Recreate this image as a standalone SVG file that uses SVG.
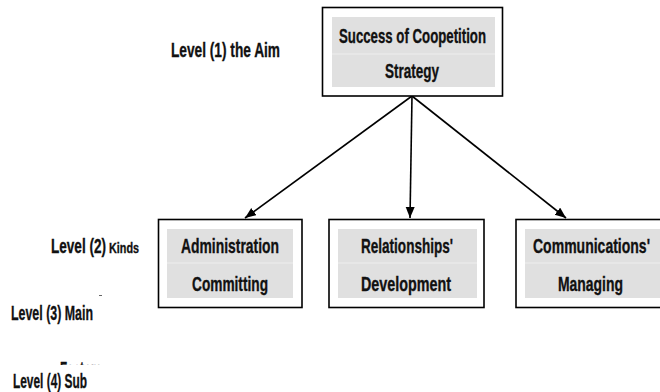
<svg xmlns="http://www.w3.org/2000/svg" width="660" height="392" viewBox="0 0 660 392">
  <style>
    .box { fill: #ffffff; stroke: #000000; stroke-width: 1.6; }
    .band { fill: #e0e0e0; }
    .seam { stroke: #eeeeee; stroke-width: 1; }
    .t { font-family: "Liberation Sans", Arial, sans-serif; font-weight: bold; font-size: 20.5px; fill: #111111; stroke: #111111; stroke-width: 0.35; }
    .c { text-anchor: middle; }
    .small { font-size: 15px; }
    .link { stroke: #000000; stroke-width: 1.6; fill: none; marker-end: url(#arrow); }
  </style>
  <defs>
    <marker id="arrow" markerUnits="userSpaceOnUse" markerWidth="12" markerHeight="10" refX="11" refY="4.5" orient="auto">
      <path d="M0,0 L11,4.5 L0,9 z" fill="#000000"/>
    </marker>
    <clipPath id="cut">
      <rect x="55" y="360" width="60" height="5"/>
    </clipPath>
  </defs>

  <rect width="660" height="392" fill="#ffffff"/>

  <!-- level captions -->
  <g id="levels">
    <text class="t" x="171" y="57" textLength="109" lengthAdjust="spacingAndGlyphs">Level (1) the Aim</text>
    <text class="t" x="51" y="253"><tspan textLength="55" lengthAdjust="spacingAndGlyphs">Level (2)</tspan><tspan class="small" x="109" textLength="30" lengthAdjust="spacingAndGlyphs">Kinds</tspan></text>
    <text class="t" x="11" y="320" textLength="82" lengthAdjust="spacingAndGlyphs">Level (3) Main</text>
    <text class="t" x="13" y="388" textLength="74" lengthAdjust="spacingAndGlyphs">Level (4) Sub</text>
    <text class="t" x="60" y="375.5" textLength="42" lengthAdjust="spacingAndGlyphs" clip-path="url(#cut)">Factors</text>
    <rect x="99" y="295" width="3" height="1" fill="#666666"/>
  </g>

  <!-- connectors -->
  <g id="connectors">
    <line class="link" x1="412" y1="96" x2="245" y2="218"/>
    <line class="link" x1="412" y1="96" x2="410" y2="218"/>
    <line class="link" x1="412" y1="96" x2="566" y2="218"/>
  </g>

  <!-- level 1 -->
  <g id="aim">
    <rect class="box" x="322.5" y="7.5" width="180" height="88.5"/>
    <rect class="band" x="332" y="17" width="163" height="70"/>
    <line class="seam" x1="332" y1="54" x2="495" y2="54"/>
    <text class="t c" x="412.5" y="42.5" textLength="147" lengthAdjust="spacingAndGlyphs">Success of Coopetition</text>
    <text class="t c" x="412" y="77.5" textLength="54" lengthAdjust="spacingAndGlyphs">Strategy</text>
  </g>

  <!-- level 2 -->
  <g id="administration">
    <rect class="box" x="158.5" y="219.5" width="143.5" height="88"/>
    <rect class="band" x="167" y="229" width="126" height="69"/>
    <line class="seam" x1="167" y1="263" x2="293" y2="263"/>
    <text class="t c" x="230" y="252.5" textLength="98" lengthAdjust="spacingAndGlyphs">Administration</text>
    <text class="t c" x="230" y="290.5" textLength="76" lengthAdjust="spacingAndGlyphs">Committing</text>
  </g>

  <g id="relationships">
    <rect class="box" x="329" y="219.5" width="155" height="88"/>
    <rect class="band" x="338" y="229" width="139" height="69"/>
    <line class="seam" x1="338" y1="263" x2="477" y2="263"/>
    <text class="t c" x="407" y="252.5" textLength="92" lengthAdjust="spacingAndGlyphs">Relationships'</text>
    <text class="t c" x="406" y="290.5" textLength="90" lengthAdjust="spacingAndGlyphs">Development</text>
  </g>

  <g id="communications">
    <rect class="box" x="516" y="219.5" width="155" height="88"/>
    <rect class="band" x="525" y="229" width="139" height="69"/>
    <line class="seam" x1="525" y1="263" x2="664" y2="263"/>
    <text class="t c" x="591.5" y="252.5" textLength="117" lengthAdjust="spacingAndGlyphs">Communications'</text>
    <text class="t c" x="590.5" y="290.5" textLength="65" lengthAdjust="spacingAndGlyphs">Managing</text>
  </g>
</svg>
